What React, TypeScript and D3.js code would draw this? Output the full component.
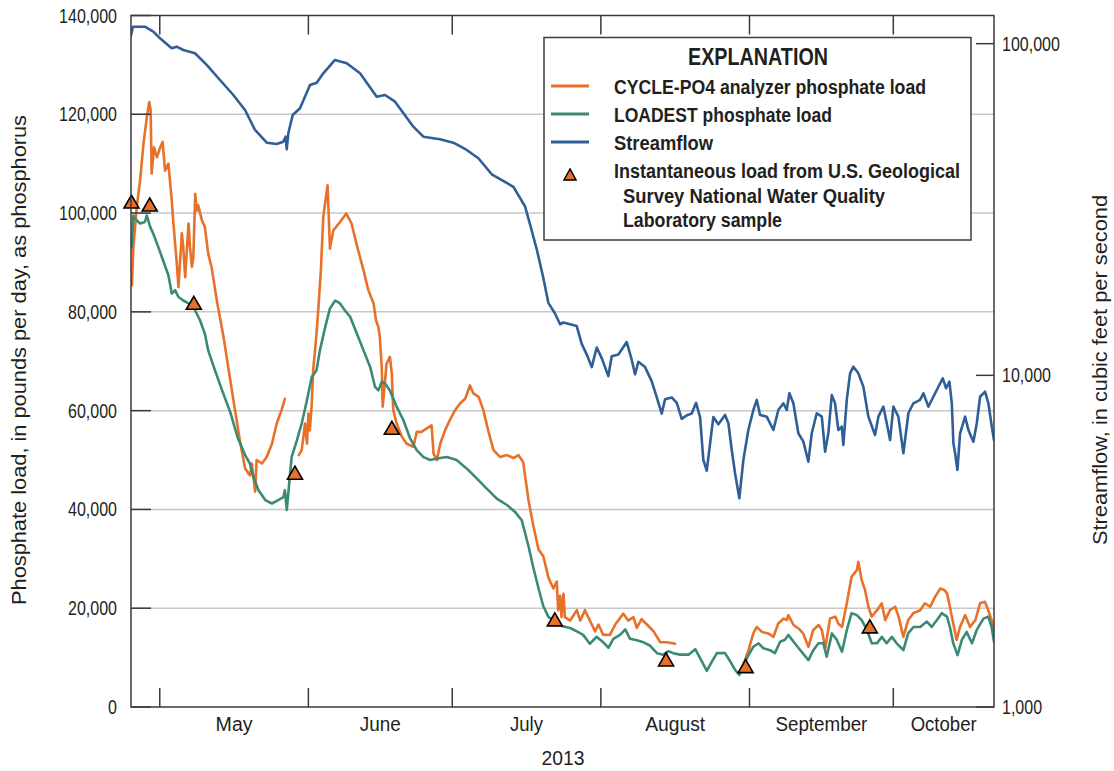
import React from 'react';
import * as d3 from 'd3';

// ---------------- DATA ----------------
// Days are counted from 25 April 2013 (00:00 UTC)
const startDay = Date.UTC(2013, 3, 25);
const endDay = Date.UTC(2013, 9, 22);
const DAY_MS = 86400000;

const monthStarts = ['2013-05-01', '2013-06-01', '2013-07-01', '2013-08-01', '2013-09-01', '2013-10-01'];
const monthLabels = ['May', 'June', 'July', 'August', 'September', 'October'];
const yearLabel = '2013';
const loadTicks = [0, 20000, 40000, 60000, 80000, 100000, 120000, 140000];
const flowTicks = [1000, 10000, 100000];

// CYCLE-PO4 analyzer phosphate load, pounds per day (null = gap)
const cycleLoad: [number, number | null][] = [
  [0.2, 85400], [0.5, 93100], [1.2, 101200], [1.9, 106600], [2.6, 114000], [3.3, 119400], [3.8, 122500], [4.1, 120800], [4.3, 108000], [4.8, 113300],
  [5.4, 111300], [6.1, 113300], [6.6, 114400], [7.1, 108600], [7.8, 110000], [8.5, 102600], [8.8, 98500], [9.5, 90400], [9.9, 85000], [10.6, 95900],
  [10.9, 93100], [11.3, 87000], [11.6, 91800], [12.0, 97900], [12.3, 93100], [12.7, 89100], [13.0, 91100], [13.4, 103900], [13.7, 100500], [14.0, 101600],
  [14.8, 98500], [15.4, 97200], [16.1, 91800], [16.8, 89100], [17.9, 82300], [19.3, 74900], [20.7, 66200], [21.7, 60100], [22.7, 54000], [23.8, 48300],
  [24.8, 46900], [25.2, 49300], [25.9, 43600], [26.2, 50000], [27.3, 49300], [28.3, 50600], [29.4, 53300], [30.4, 57400], [31.4, 60100], [32.1, 62400],
  [33.5, null],
  [35.0, 51000], [35.6, 52000], [36.3, 57400], [36.7, 53300], [37.0, 59400], [37.3, 56000], [37.7, 61400], [38.0, 68200], [38.7, 75600], [39.1, 81000],
  [39.6, 88400], [40.1, 99200], [41.0, 105600], [41.5, 92800], [42.2, 96500], [43.6, 98200], [44.9, 99900], [46.0, 97900], [47.1, 93500], [48.5, 88400],
  [49.5, 84400], [50.6, 81700], [51.1, 78300], [51.6, 76900], [51.9, 74900], [52.3, 68800], [52.5, 60800], [52.8, 64100], [53.3, 69500], [54.0, 70900],
  [54.4, 67500], [54.7, 60100], [55.4, 57400], [56.5, 54700], [57.5, 53300], [58.9, 52700], [59.6, 55700], [60.6, 55700], [61.7, 56400], [62.7, 57000],
  [63.1, 51300], [63.8, 50000], [64.5, 53300], [65.5, 56000], [66.5, 58100], [67.6, 60100], [68.6, 61400], [69.7, 62400], [70.7, 65100], [71.4, 63500],
  [72.5, 62800], [73.5, 60100], [74.5, 56000], [75.6, 52000], [77.0, 50600], [78.4, 51000], [79.8, 50400], [80.8, 51000], [81.8, 49600], [82.9, 41900],
  [83.9, 36800], [85.0, 31900], [86.0, 30500], [87.1, 26100], [88.1, 24000], [88.8, 25400], [89.1, 19600], [89.5, 22500], [89.8, 18200], [90.2, 22900],
  [90.5, 18200], [91.6, 17500], [93.0, 19600], [93.7, 17500], [94.7, 19600], [95.7, 17500], [96.8, 15300], [97.5, 16700], [98.5, 14600], [99.9, 14600],
  [101.0, 16700], [102.7, 18900], [103.7, 17500], [104.8, 18200], [105.5, 16000], [106.5, 17800], [107.6, 16700], [109.0, 15300], [110.4, 13100], [111.8, 13100],
  [113.5, 12800],
  [120.0, null],
  [127.7, 8500], [128.8, 11500], [129.8, 14900], [130.5, 16200], [131.6, 15200], [132.9, 14900], [134.0, 14200], [135.0, 16900], [136.1, 17900], [136.8, 17600],
  [137.1, 18600], [138.2, 16600], [139.2, 15900], [140.2, 14900], [141.3, 12200], [142.3, 15600], [143.4, 16600], [144.1, 15600], [144.8, 11900], [145.8, 17900],
  [146.9, 18300], [147.5, 16900], [148.3, 16200], [149.3, 21000], [150.3, 26400], [151.4, 27700], [151.7, 29400], [152.4, 25700], [153.1, 23700], [153.8, 20300],
  [154.5, 18300], [155.6, 19600], [156.6, 21000], [157.3, 17600], [158.3, 19600], [159.4, 20300], [160.1, 18300], [161.1, 14200], [162.1, 17600], [163.2, 19000],
  [164.6, 19600], [165.6, 21000], [166.7, 20300], [167.7, 22300], [168.8, 24000], [169.6, 23700], [170.2, 23000], [170.8, 20300], [171.5, 16900], [172.2, 13600],
  [172.9, 16200], [174.0, 18600], [175.0, 16200], [176.1, 17600], [177.1, 21000], [178.1, 21300], [178.8, 19600], [179.5, 17600], [180.0, 15600],
];

// LOADEST phosphate load, pounds per day
const loadestLoad: [number, number | null][] = [
  [0.15, 93100], [0.5, 99500], [0.8, 98900], [1.9, 97900], [2.9, 98200], [3.3, 99500], [4.0, 97200], [4.65, 95800], [5.7, 93100], [6.7, 90400],
  [7.8, 87400], [8.5, 83700], [9.2, 84400], [9.9, 83000], [10.9, 82300], [12.0, 81700], [13.0, 81000], [14.4, 78300], [15.4, 75600], [16.1, 72200],
  [17.5, 68200], [19.0, 64100], [20.7, 59700], [22.3, 54400], [23.8, 51000], [24.8, 49300], [25.5, 46600], [26.6, 43900], [28.0, 41900], [29.4, 41200],
  [30.7, 41900], [31.8, 42500], [32.1, 43900], [32.5, 39900], [33.0, 45300], [33.5, 50600], [34.6, 54000], [35.6, 57400], [36.7, 62100], [37.7, 66800],
  [38.7, 68200], [39.4, 72200], [40.5, 76900], [41.5, 80700], [42.6, 82300], [43.6, 81700], [44.6, 80300], [45.7, 79000], [47.1, 75600], [48.5, 72200],
  [49.9, 68800], [50.9, 64800], [51.6, 64100], [52.3, 65800], [53.0, 65500], [54.0, 64100], [55.4, 60800], [56.8, 58100], [58.2, 54400], [59.6, 52000],
  [61.0, 50600], [62.4, 50000], [63.8, 50300], [65.9, 50600], [67.9, 50000], [70.0, 48300], [72.1, 46300], [74.2, 44200], [76.3, 42200], [78.4, 40900],
  [80.1, 39500], [81.5, 37800], [82.9, 32600], [83.9, 28300], [85.0, 24000], [86.0, 20400], [87.1, 18200], [88.4, 17500], [89.8, 16400], [91.6, 16000],
  [93.0, 15300], [94.3, 14600], [95.7, 12800], [97.1, 14200], [98.5, 13100], [99.6, 12000], [100.6, 13800], [102.0, 14600], [103.1, 15700], [104.1, 13800],
  [105.5, 13500], [106.9, 13100], [108.3, 12400], [109.7, 10900], [111.0, 10600], [112.1, 11300], [113.1, 10900], [114.5, 10600], [116.3, 10600], [117.7, 11700],
  [118.7, 9900], [120.1, 7300], [121.1, 9100], [122.2, 10900], [123.9, 10900], [125.0, 9200], [126.0, 7500], [126.9, 6500], [127.7, 8500], [128.8, 10500],
  [129.8, 12200], [130.9, 12900], [131.9, 11900], [133.3, 11500], [134.3, 10900], [135.4, 13200], [136.4, 13600], [137.1, 14600], [138.2, 13200], [139.6, 11500],
  [141.3, 9500], [142.3, 11500], [143.4, 12900], [144.4, 12900], [145.1, 10200], [146.2, 14900], [147.2, 13600], [148.3, 11200], [149.3, 15600], [150.3, 19000],
  [151.4, 18600], [152.4, 17600], [153.5, 15600], [154.5, 12900], [155.6, 12900], [156.6, 14200], [157.6, 12900], [158.7, 14200], [159.7, 12900], [161.1, 11500],
  [162.1, 14900], [163.2, 16200], [164.6, 16200], [166.0, 17300], [167.0, 16200], [168.1, 17600], [169.1, 19000], [170.2, 18300], [170.8, 16200], [171.5, 12900],
  [172.4, 10500], [173.3, 13600], [174.3, 15200], [175.4, 12900], [176.4, 15600], [177.8, 17900], [178.8, 18300], [179.5, 16200], [180.0, 13200],
];

// Streamflow, cubic feet per second
const streamflow: [number, number][] = [
  [0, 106000], [0.4, 112500], [2.9, 112500], [4.65, 108700], [6.05, 103800], [8.49, 96900], [9.53, 97950], [10.91, 95700], [13.35, 93550], [15.79, 86270],
  [18.56, 77700], [21.34, 70020], [23.78, 63110], [25.87, 54930], [28.31, 50290], [30.39, 49840], [31.77, 50640], [32.27, 52430], [32.48, 48040], [32.81, 53680],
  [33.73, 60950], [35.25, 63870], [37.34, 75070], [38.74, 76280], [40.11, 81420], [42.55, 89310], [44.99, 87280], [47.77, 81420], [51.25, 69200], [52.98, 70020],
  [55.07, 66860], [58.89, 56190], [60.97, 52430], [64.46, 51480], [67.23, 50290], [70.03, 47810], [72.45, 45130], [75.24, 40380], [79.75, 37030], [82.19, 32310],
  [83.23, 28540], [84.63, 23990], [86.0, 19670], [87.05, 16540], [88.44, 15360], [89.49, 14250], [90.18, 14430], [91.57, 14250], [92.97, 14080], [94.01, 12440],
  [95.06, 11550], [96.1, 10590], [97.14, 12130], [98.18, 11270], [99.56, 9948], [100.27, 11410], [101.65, 11550], [103.4, 12600], [104.44, 11130], [105.13, 10070],
  [105.82, 10990], [107.22, 10590], [108.62, 9590], [109.66, 8575], [110.7, 7668], [111.39, 8469], [112.79, 8575], [113.83, 8262], [114.87, 7391], [115.92, 7572],
  [116.96, 7668], [117.86, 8262], [118.69, 7483], [119.38, 5555], [120.09, 5158], [121.46, 7483], [122.51, 7119], [123.91, 7595], [124.6, 7170], [125.3, 5955],
  [125.99, 5067], [126.88, 4260], [127.72, 5555], [128.76, 6843], [129.81, 7863], [130.52, 8430], [131.21, 7595], [132.6, 7505], [133.98, 6843], [135.02, 7863],
  [136.07, 8236], [136.77, 7863], [137.32, 8829], [138.15, 8236], [139.19, 6688], [140.24, 6310], [141.28, 5490], [141.99, 6688], [143.03, 7685], [144.08, 7505],
  [144.77, 5885], [145.45, 6688], [146.16, 8724], [146.85, 8236], [147.54, 6843], [148.25, 7002], [148.58, 6166], [149.29, 8430], [149.98, 10140], [150.67, 10620],
  [151.71, 10140], [152.75, 9240], [153.8, 7505], [155.19, 6609], [155.88, 7505], [156.93, 8045], [157.63, 7170], [158.32, 6380], [159.01, 8045], [160.05, 7505],
  [161.1, 5821], [162.14, 7685], [163.18, 8236], [164.58, 8430], [165.27, 8829], [166.31, 8045], [167.36, 8620], [168.4, 9240], [169.32, 9797], [170.01, 9141],
  [170.7, 9570], [171.2, 8236], [171.53, 6240], [171.89, 5821], [172.37, 5183], [172.93, 6688], [173.97, 7505], [174.66, 6843], [175.7, 6310], [176.41, 7170],
  [177.1, 8620], [178.14, 8926], [178.83, 8236], [179.54, 7002], [180, 6380],
];

// Instantaneous load from NWQL samples, pounds per day
const labSamples: [number, number][] = [
  [0.1, 102200], [3.9, 101600], [13.1, 81700], [34.2, 47300], [54.4, 56400], [88.4, 17600], [111.6, 9500], [128.2, 8150], [154.1, 16200],
];

const legendTitle = 'EXPLANATION';
const legendItems = ['CYCLE-PO4 analyzer phosphate load', 'LOADEST phosphate load', 'Streamflow'];
const legendSampleLines = ['Instantaneous load from U.S. Geological', 'Survey National Water Quality', 'Laboratory sample'];
const leftTitle = 'Phosphate load, in pounds per day, as phosphorus';
const rightTitle = 'Streamflow, in cubic feet per second';

// ---------------- STYLE ----------------
const FONT = "'Liberation Sans', Arial, sans-serif";
const TEXT = '#231f20';
const ORANGE = '#e8712a';
const GREEN = '#3a8a77';
const BLUE = '#2f5f96';
const GRID = '#c8c8c8';
const AXIS = '#3a3a3a';

const PL = 131, PR = 994, PT = 15.5, PB = 707;

// condensed look: fixed rendered widths
const monthWidths = [37, 41, 33, 60, 92, 66];
const legendItemWidths = [312, 218, 99];
const legendSampleWidths = [346, 262, 159];
const numWidth = (s: string) => {
  const digits = s.replace(/[^0-9]/g, '').length;
  const commas = s.length - digits;
  return digits * 8.9 + commas * 4.5;
};

export default function App() {
  const x = d3.scaleUtc().domain([new Date(startDay), new Date(endDay)]).range([PL, PR]);
  const yL = d3.scaleLinear().domain([0, 140000]).range([PB, PT]);
  const yR = d3.scaleLog().domain([1000, 121600]).range([PB, PT]);
  const toDate = (d: number) => new Date(startDay + d * DAY_MS);

  const loadLine = d3
    .line<[number, number | null]>()
    .defined((d) => d[1] != null)
    .x((d) => x(toDate(d[0])))
    .y((d) => yL(d[1] as number));
  const flowLine = d3
    .line<[number, number]>()
    .x((d) => x(toDate(d[0])))
    .y((d) => yR(d[1]));

  const months = monthStarts.map((s) => new Date(s + 'T00:00:00Z'));
  const fmt = d3.format(',');

  const tri = (cx: number, cy: number, w: number, h: number) =>
    `M${cx},${cy - h * 0.55}L${cx + w / 2},${cy + h * 0.45}L${cx - w / 2},${cy + h * 0.45}Z`;

  const legendX = 544, legendY = 37.5, legendW = 427, legendH = 202.5;
  const LA = 'spacingAndGlyphs';

  return (
    <svg
      width={1114}
      height={771}
      style={{ position: 'absolute', left: 0, top: 0, display: 'block', background: '#fff' }}
      fontFamily={FONT}
    >
      <defs>
        <clipPath id="plotClip">
          <rect x={PL} y={PT} width={PR - PL} height={PB - PT} />
        </clipPath>
      </defs>
      <rect x={0} y={0} width={1114} height={771} fill="#fff" />

      {/* gridlines */}
      {loadTicks.slice(1, -1).map((t) => (
        <line key={'g' + t} x1={PL} x2={PR} y1={yL(t)} y2={yL(t)} stroke={GRID} strokeWidth={1.5} />
      ))}

      {/* data lines */}
      <g clipPath="url(#plotClip)" fill="none" strokeLinejoin="round" strokeLinecap="round">
        <path d={flowLine(streamflow) || ''} stroke={BLUE} strokeWidth={2.6} />
        <path d={loadLine(cycleLoad) || ''} stroke={ORANGE} strokeWidth={2.6} />
        <path d={loadLine(loadestLoad) || ''} stroke={GREEN} strokeWidth={2.6} />
      </g>

      {/* samples */}
      {labSamples.map((s, i) => (
        <path
          key={'s' + i}
          d={tri(x(toDate(s[0])), yL(s[1]), 15, 13)}
          fill={ORANGE}
          stroke="#000"
          strokeWidth={1.6}
          strokeLinejoin="miter"
        />
      ))}

      {/* frame */}
      <rect x={PL} y={PT} width={PR - PL} height={PB - PT} fill="none" stroke={AXIS} strokeWidth={1.5} />

      {/* left ticks */}
      {loadTicks.map((t) => (
        <g key={'l' + t}>
          <line x1={PL} x2={PL + 20} y1={yL(t)} y2={yL(t)} stroke={AXIS} strokeWidth={1.5} />
          <text
            x={117}
            y={yL(t)}
            dy="0.36em"
            textAnchor="end"
            fontSize={19.5}
            fill={TEXT}
            textLength={numWidth(fmt(t))}
            lengthAdjust={LA}
          >
            {fmt(t)}
          </text>
        </g>
      ))}

      {/* right ticks */}
      {flowTicks.map((t) => (
        <g key={'r' + t}>
          <line x1={PR - 18} x2={PR} y1={yR(t)} y2={yR(t)} stroke={AXIS} strokeWidth={1.5} />
          <text
            x={1002}
            y={yR(t)}
            dy="0.36em"
            textAnchor="start"
            fontSize={19.5}
            fill={TEXT}
            textLength={numWidth(fmt(t))}
            lengthAdjust={LA}
          >
            {fmt(t)}
          </text>
        </g>
      ))}

      {/* month ticks top and bottom */}
      {months.map((m, i) => {
        const xm = x(m);
        const next = i + 1 < months.length ? x(months[i + 1]) : PR;
        return (
          <g key={'m' + i}>
            <line x1={xm} x2={xm} y1={PB} y2={PB - 19} stroke={AXIS} strokeWidth={1.5} />
            <line x1={xm} x2={xm} y1={PT} y2={PT + 19} stroke={AXIS} strokeWidth={1.5} />
            <text
              x={(xm + next) / 2}
              y={731}
              textAnchor="middle"
              fontSize={19.5}
              fill={TEXT}
              textLength={monthWidths[i]}
              lengthAdjust={LA}
            >
              {monthLabels[i]}
            </text>
          </g>
        );
      })}
      <text x={563} y={765} textAnchor="middle" fontSize={21} fill={TEXT} textLength={43} lengthAdjust={LA}>
        {yearLabel}
      </text>

      {/* axis titles */}
      <text
        transform="translate(26,360) rotate(-90)"
        textAnchor="middle"
        fontSize={20.5}
        fill={TEXT}
        textLength={490}
        lengthAdjust={LA}
      >
        {leftTitle}
      </text>
      <text
        transform="translate(1107,370) rotate(-90)"
        textAnchor="middle"
        fontSize={20.5}
        fill={TEXT}
        textLength={350}
        lengthAdjust={LA}
      >
        {rightTitle}
      </text>

      {/* legend */}
      <rect x={legendX} y={legendY} width={legendW} height={legendH} fill="#fff" stroke={AXIS} strokeWidth={1.5} />
      <text
        x={758}
        y={65}
        textAnchor="middle"
        fontSize={23}
        fontWeight="bold"
        fill={TEXT}
        textLength={140}
        lengthAdjust={LA}
      >
        {legendTitle}
      </text>
      {[ORANGE, GREEN, BLUE].map((c, i) => (
        <g key={'li' + i}>
          <line x1={551} x2={589} y1={86 + i * 28} y2={86 + i * 28} stroke={c} strokeWidth={3} />
          <text
            x={614}
            y={93.5 + i * 28}
            fontSize={20}
            fontWeight="bold"
            fill={TEXT}
            textLength={legendItemWidths[i]}
            lengthAdjust={LA}
          >
            {legendItems[i]}
          </text>
        </g>
      ))}
      <path d={tri(570, 175, 12, 11)} fill={ORANGE} stroke="#000" strokeWidth={1.5} />
      {legendSampleLines.map((t, i) => (
        <text
          key={'ls' + i}
          x={i === 0 ? 614 : 623}
          y={178 + i * 24.5}
          fontSize={20}
          fontWeight="bold"
          fill={TEXT}
          textLength={legendSampleWidths[i]}
          lengthAdjust={LA}
        >
          {t}
        </text>
      ))}
    </svg>
  );
}
